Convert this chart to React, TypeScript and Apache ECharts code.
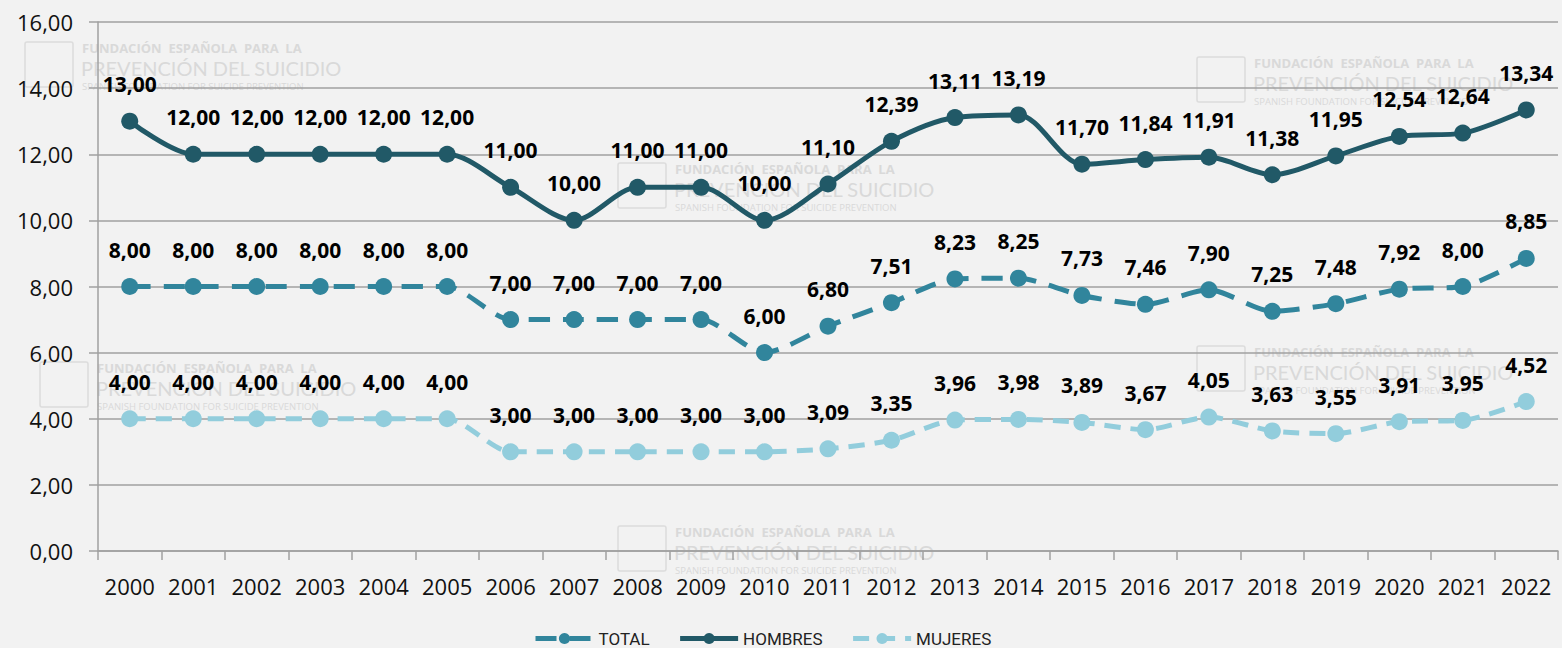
import React, { useEffect, useRef } from "react";
import * as echarts from "echarts";

const years = ["2000","2001","2002","2003","2004","2005","2006","2007","2008","2009","2010","2011","2012","2013","2014","2015","2016","2017","2018","2019","2020","2021","2022"];
const total = [8,8,8,8,8,8,7,7,7,7,6,6.80,7.51,8.23,8.25,7.73,7.46,7.90,7.25,7.48,7.92,8.00,8.85];
const hombres = [13,12,12,12,12,12,11,10,11,11,10,11.10,12.39,13.11,13.19,11.70,11.84,11.91,11.38,11.95,12.54,12.64,13.34];
const mujeres = [4,4,4,4,4,4,3,3,3,3,3,3.09,3.35,3.96,3.98,3.89,3.67,4.05,3.63,3.55,3.91,3.95,4.52];
const watermarkSpots: [number, number][] = [[25,42],[618,163],[1197,57],[40,362],[1197,346],[618,526]];

const fmt = (v: number) => v.toFixed(2).replace(".", ",");

function watermark(x: number, y: number) {
  const c = "#d9d9d9";
  return {
    type: "group",
    x, y, z: -5,
    children: [
      { type: "rect", shape: { x: 0, y: 0, width: 48, height: 45, r: 2 }, style: { fill: "none", stroke: "#dcdcdc", lineWidth: 1.5 } },
      { type: "text", x: 57, y: 6, style: { text: "FUNDACIÓN  ESPAÑOLA  PARA  LA", fill: c, font: "bold 13px 'Open Sans'", verticalAlign: "middle" } },
      { type: "text", x: 56, y: 26, style: { text: "PREVENCIÓN DEL SUICIDIO", fill: c, font: "20px Lato", verticalAlign: "middle" } },
      { type: "text", x: 57, y: 44, style: { text: "SPANISH FOUNDATION FOR SUICIDE PREVENTION", fill: c, font: "9.5px 'Open Sans'", verticalAlign: "middle" } },
    ],
  };
}

const labelCfg = {
  show: true,
  position: "top",
  distance: 18,
  formatter: (p: any) => fmt(p.value),
  color: "#000",
  fontFamily: "'Open Sans'",
  fontWeight: "bold",
  fontSize: 21,
};

export default function App() {
  const ref = useRef<HTMLDivElement>(null);
  useEffect(() => {
    if (!ref.current) return;
    const chart = echarts.init(ref.current, null, { renderer: "svg" });
    chart.setOption({
      animation: false,
      backgroundColor: "#f2f2f2",
      graphic: watermarkSpots.map(([x, y]) => watermark(x, y)),
      grid: { left: 98, right: 4, top: 22, bottom: 97 },
      legend: {
        left: 528,
        top: 625,
        itemWidth: 58,
        itemHeight: 14,
        itemGap: 28,
        lineStyle: { width: 5 },
        textStyle: { fontFamily: "Roboto", fontSize: 17, color: "#222" },
        data: ["TOTAL", "HOMBRES", "MUJERES"],
      },
      xAxis: {
        type: "category",
        data: years,
        boundaryGap: true,
        axisLine: { lineStyle: { color: "#a0a0a0", width: 1.5 } },
        axisTick: { show: true, interval: 0, length: 9, lineStyle: { color: "#a0a0a0", width: 1.5 } },
        axisLabel: { interval: 0, color: "#111", fontFamily: "'Open Sans'", fontSize: 22, margin: 24 },
      },
      yAxis: {
        type: "value",
        min: 0,
        max: 16,
        interval: 2,
        axisLine: { show: true, lineStyle: { color: "#a0a0a0", width: 1.5 } },
        axisTick: { show: true, length: 9, lineStyle: { color: "#a0a0a0", width: 1.5 } },
        splitLine: { lineStyle: { color: "#a0a0a0", width: 1.5 } },
        axisLabel: { color: "#111", fontFamily: "'Open Sans'", fontSize: 22, margin: 25, formatter: (v: number) => fmt(v) },
      },
      series: [
        {
          name: "TOTAL",
          type: "line",
          data: total,
          smooth: 0.25,
          symbol: "circle",
          symbolSize: 17,
          itemStyle: { color: "#31859c" },
          lineStyle: { color: "#31859c", width: 5, type: [21, 13] },
          label: labelCfg,
          z: 3,
        },
        {
          name: "HOMBRES",
          type: "line",
          data: hombres,
          smooth: 0.3,
          symbol: "circle",
          symbolSize: 17,
          itemStyle: { color: "#215967" },
          lineStyle: { color: "#215967", width: 5 },
          label: labelCfg,
          z: 3,
        },
        {
          name: "MUJERES",
          type: "line",
          data: mujeres,
          smooth: 0.25,
          symbol: "circle",
          symbolSize: 17,
          itemStyle: { color: "#92cddc" },
          lineStyle: { color: "#92cddc", width: 5, type: [16, 10] },
          label: labelCfg,
          z: 3,
        },
      ],
    });
    return () => chart.dispose();
  }, []);
  return <div ref={ref} style={{ position: "absolute", left: 0, top: 0, width: 1562, height: 648 }} />;
}
